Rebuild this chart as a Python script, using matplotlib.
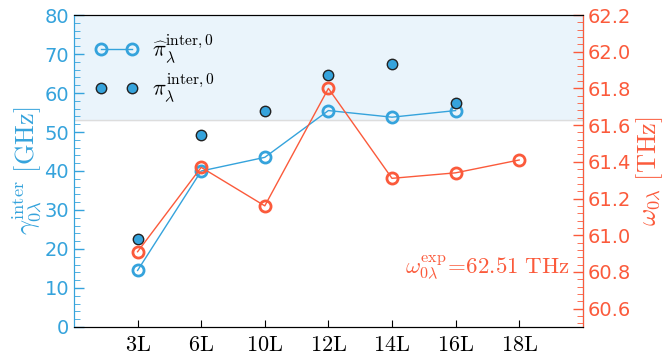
import numpy as np
import matplotlib
matplotlib.use('Agg')
import matplotlib.pyplot as plt
from matplotlib.ticker import MultipleLocator

plt.rcParams['mathtext.fontset'] = 'cm'

labels = ['3L', '6L', '10L', '12L', '14L', '16L', '18L']
# gamma hat (linha com circulos abertos), x = 1..6
pi_hat = [14.5, 40.0, 43.5, 55.5, 53.8, 55.5]
# gamma (circulos cheios)
pi_full = [22.5, 49.3, 55.5, 64.6, 67.4, 57.4]
# omega_0 em THz, x = 1..7
omega = [60.91, 61.37, 61.16, 61.80, 61.31, 61.34, 61.41]

blue = '#35a3dc'
red = '#fb5a3b'

fig = plt.figure(figsize=(6.63, 3.6), dpi=100)
ax = fig.add_axes([0.1116, 0.0917, 0.7674, 0.8666])
ax2 = ax.twinx()

x1 = np.arange(1, len(pi_hat) + 1)
x2 = np.arange(1, len(omega) + 1)

ax.axhspan(53.1, 80, color='#eaf4fb', zorder=0)
ax.axhline(53.1, color='#dddddd', lw=1, zorder=0)

ax.plot(x1, pi_hat, '-o', color=blue, mfc='none', mec=blue, mew=2, ms=8, lw=1,
        label=r'$\widehat{\pi}_{\lambda}^{\mathrm{inter},0}$', zorder=3)
ax.plot(x1, pi_full, 'o', color=blue, mec='#222222', mew=1, ms=7.5,
        label=r'$\pi_{\lambda}^{\mathrm{inter},0}$', zorder=4)

ax2.plot(x2, omega, '-o', color=red, mfc='none', mec=red, mew=2, ms=8, lw=1, zorder=3)

ax.set_xlim(0, 8)
ax.set_ylim(0, 80)
ax2.set_ylim(60.5, 62.2)

ax.set_xticks(x2)
ax.set_xticklabels([r'$\mathrm{%s}$' % l for l in labels], fontsize=16)
ax.yaxis.set_major_locator(MultipleLocator(10))
ax.yaxis.set_minor_locator(MultipleLocator(2))
ax2.yaxis.set_major_locator(MultipleLocator(0.2))
ax2.yaxis.set_minor_locator(MultipleLocator(0.04))

ax.tick_params(axis='x', direction='in', length=5, pad=6)
ax.tick_params(axis='y', which='both', direction='in', colors=blue, labelsize=14)
ax.tick_params(axis='y', which='major', length=7, width=1)
ax.tick_params(axis='y', which='minor', length=4)
ax2.tick_params(axis='y', which='both', direction='in', colors=red, labelsize=14)
ax2.tick_params(axis='y', which='major', length=7, width=1)
ax2.tick_params(axis='y', which='minor', length=4)
ax2.yaxis.set_major_formatter(matplotlib.ticker.FormatStrFormatter('%.1f'))

ax.spines['left'].set_color(blue)
ax2.spines['left'].set_color(blue)
ax2.spines['right'].set_color(red)

ax.set_ylabel(r'$\gamma_{0\lambda}^{\mathrm{inter}}\ [\mathrm{GHz}]$', color=blue, fontsize=19, labelpad=0)
ax2.set_ylabel(r'$\omega_{0\lambda}\ [\mathrm{THz}]$', color=red, fontsize=19, labelpad=2)

ax2.text(0.975, 0.19, r'$\omega_{0\lambda}^{\mathrm{exp}}\!=\!62.51\ \mathrm{THz}$', color=red,
         fontsize=16.5, ha='right', va='center', transform=ax2.transAxes)

ax.legend(loc='upper left', frameon=False, numpoints=2, fontsize=16,
          bbox_to_anchor=(0.0, 1.01), handlelength=2.0, handletextpad=0.6,
          labelspacing=0.25)

fig.savefig('out.png', dpi=100)
